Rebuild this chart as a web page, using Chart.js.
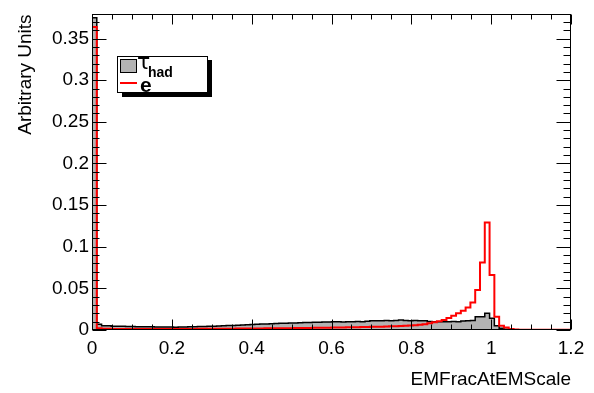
<!DOCTYPE html>
<html>
<head>
<meta charset="utf-8">
<script src="https://cdn.jsdelivr.net/npm/chart.js@4/dist/chart.umd.min.js"></script>
<style>
  html, body { margin: 0; padding: 0; background: #fff; }
  canvas { display: block; }
</style>
</head>
<body>
<canvas id="emfrac" width="594" height="393"></canvas>
<script>
'use strict';

// Histogram binning: 100 bins on [0, 1.2]
const xMin = 0;
const xMax = 1.2;
const nBins = 100;

// tau_had, normalised per bin
const tauHad = [
    0.375, 0.0070, 0.0050, 0.0050, 0.0046, 0.0045, 0.0044, 0.0042, 0.0041, 0.0040,
    0.0040, 0.0038, 0.0038, 0.0036, 0.0035, 0.0035, 0.0035, 0.0034, 0.0035, 0.0036,
    0.0038, 0.0040, 0.0041, 0.0043, 0.0045, 0.0046, 0.0049, 0.0051, 0.0053, 0.0055,
    0.0058, 0.0060, 0.0063, 0.0065, 0.0068, 0.0071, 0.0073, 0.0075, 0.0078, 0.0080,
    0.0082, 0.0084, 0.0085, 0.0087, 0.0089, 0.0090, 0.0092, 0.0094, 0.0095, 0.0097,
    0.0100, 0.0098, 0.0095, 0.0098, 0.0100, 0.0102, 0.0100, 0.0105, 0.0110, 0.0112,
    0.0110, 0.0115, 0.0112, 0.0115, 0.0120, 0.0115, 0.0112, 0.0115, 0.0110, 0.0112,
    0.0102, 0.0098, 0.0100, 0.0098, 0.0100, 0.0102, 0.0100, 0.0108, 0.0112, 0.0115,
    0.0160, 0.0160, 0.0200, 0.0140, 0.0050, 0.0020, 0.0010, 0.0005, 0.0003, 0.0002,
    0.0001, 0.0001, 0.0001, 0, 0, 0, 0, 0, 0, 0
];

// electrons, normalised per bin
const electron = [
    0.364, 0.0022, 0.0016, 0.0014, 0.0013, 0.0012, 0.0012, 0.0011, 0.0011, 0.0011,
    0.0011, 0.0011, 0.0011, 0.0011, 0.0012, 0.0012, 0.0012, 0.0012, 0.0013, 0.0013,
    0.0013, 0.0013, 0.0014, 0.0014, 0.0014, 0.0015, 0.0015, 0.0015, 0.0016, 0.0016,
    0.0017, 0.0017, 0.0018, 0.0018, 0.0019, 0.0019, 0.0020, 0.0020, 0.0021, 0.0021,
    0.0022, 0.0022, 0.0023, 0.0024, 0.0024, 0.0025, 0.0026, 0.0026, 0.0027, 0.0028,
    0.0029, 0.0030, 0.0031, 0.0032, 0.0033, 0.0034, 0.0035, 0.0036, 0.0038, 0.0039,
    0.0040, 0.0042, 0.0044, 0.0046, 0.0048, 0.0050, 0.0053, 0.0056, 0.0062, 0.0070,
    0.0080, 0.0092, 0.0105, 0.0120, 0.0145, 0.0170, 0.0200, 0.0230, 0.0270, 0.0330,
    0.0480, 0.0810, 0.1290, 0.0660, 0.0160, 0.0050, 0.0030, 0.0012, 0.0006, 0.0004,
    0.0003, 0.0003, 0.0002, 0.0002, 0.0002, 0.0002, 0.0002, 0.0002, 0.0002, 0.0002
];

const xTickLabels = [0, 0.2, 0.4, 0.6, 0.8, 1, 1.2];
const yTickLabels = [0, 0.05, 0.1, 0.15, 0.2, 0.25, 0.3, 0.35];
const yMax = 0.379;

const FONT = '"Liberation Sans", Arial, Helvetica, sans-serif';

// step outline: one point per lower bin edge, closed down to zero at both ends
function toSteps(values) {
    const w = (xMax - xMin) / nBins;
    const pts = [{ x: xMin, y: 0 }];
    values.forEach((v, i) => pts.push({ x: xMin + i * w, y: v }));
    pts.push({ x: xMax, y: 0 });
    return pts;
}

// ROOT-like frame: ticks pointing inward on all four sides, plus the legend box
const rootFrame = {
    id: 'rootFrame',
    afterDraw(chart) {
        const { ctx, chartArea: a, scales: { x, y } } = chart;
        const L = Math.round(a.left) + 0.5, R = Math.round(a.right) - 0.5;
        const T = Math.round(a.top) + 0.5, B = Math.round(a.bottom) - 0.5;

        ctx.save();
        ctx.strokeStyle = '#000';
        ctx.lineWidth = 1;
        const seg = (x0, y0, x1, y1) => {
            ctx.beginPath();
            ctx.moveTo(x0, y0);
            ctx.lineTo(x1, y1);
            ctx.stroke();
        };

        // x ticks every 0.05, major every 0.2
        for (let k = 0; k <= 24; k++) {
            const px = Math.round(x.getPixelForValue(k * 0.05)) + 0.5;
            const len = k % 4 === 0 ? 10 : 5;
            seg(px, B, px, B - len);
            seg(px, T, px, T + len);
        }
        // y ticks every 0.01, major every 0.05
        for (let k = 0; k * 0.01 <= yMax; k++) {
            const py = Math.round(y.getPixelForValue(k * 0.01)) + 0.5;
            const len = k % 5 === 0 ? 14 : 7;
            seg(L, py, L + len, py);
            seg(R, py, R - len, py);
        }
        ctx.strokeRect(L, T, R - L, B - T);

        // legend with drop shadow
        ctx.fillStyle = '#000';
        ctx.fillRect(122, 92, 90, 5);
        ctx.fillRect(207, 60, 5, 37);
        ctx.fillStyle = '#fff';
        ctx.fillRect(117, 56, 90, 36);
        ctx.strokeRect(117.5, 56.5, 90, 36);

        ctx.fillStyle = '#b3b3b3';
        ctx.fillRect(120, 59, 16, 13);
        ctx.strokeRect(120.5, 59.5, 16, 13);

        ctx.fillStyle = '#000';
        ctx.textBaseline = 'alphabetic';
        ctx.textAlign = 'left';
        ctx.font = '22px "DejaVu Sans", ' + FONT;
        ctx.fillText('\u03c4', 137, 69);
        ctx.font = 'bold 14px ' + FONT;
        ctx.fillText('had', 148, 77);

        ctx.strokeStyle = '#ff0000';
        ctx.lineWidth = 2;
        seg(120, 83, 137, 83);
        ctx.fillStyle = '#000';
        ctx.font = 'bold 21px ' + FONT;
        ctx.fillText('e', 140, 92);
        ctx.restore();
    }
};

const fmt = v => String(+Number(v).toFixed(3));

new Chart(document.getElementById('emfrac'), {
    type: 'line',
    data: {
        datasets: [
            {
                label: 'e',
                data: toSteps(electron),
                stepped: 'before',
                borderColor: '#ff0000',
                borderWidth: 2,
                pointRadius: 0,
                fill: false,
                order: 0
            },
            {
                label: '\u03c4had',
                data: toSteps(tauHad),
                stepped: 'before',
                borderColor: '#000000',
                borderWidth: 1.5,
                backgroundColor: '#b3b3b3',
                pointRadius: 0,
                fill: 'origin',
                order: 1
            }
        ]
    },
    options: {
        responsive: false,
        animation: false,
        layout: { padding: { top: 7, right: 23, left: 0, bottom: 0 } },
        plugins: {
            legend: { display: false },
            tooltip: { enabled: false }
        },
        scales: {
            x: {
                type: 'linear',
                min: xMin,
                max: xMax,
                afterBuildTicks: s => { s.ticks = xTickLabels.map(v => ({ value: v })); },
                afterFit: s => { s.height = 63; },
                grid: { display: false, drawTicks: false },
                border: { display: false },
                ticks: {
                    color: '#000',
                    font: { family: FONT, size: 19 },
                    padding: 7,
                    maxRotation: 0,
                    autoSkip: false,
                    callback: fmt
                },
                title: {
                    display: true,
                    text: 'EMFracAtEMScale',
                    align: 'end',
                    color: '#000',
                    font: { family: FONT, size: 19 },
                    padding: { top: 0, bottom: 2 }
                }
            },
            y: {
                type: 'linear',
                min: 0,
                max: yMax,
                afterBuildTicks: s => { s.ticks = yTickLabels.map(v => ({ value: v })); },
                afterFit: s => { s.width = 92; },
                grid: { display: false, drawTicks: false },
                border: { display: false },
                ticks: {
                    color: '#000',
                    font: { family: FONT, size: 19 },
                    padding: 3,
                    autoSkip: false,
                    callback: fmt
                },
                title: {
                    display: true,
                    text: 'Arbitrary Units',
                    align: 'end',
                    color: '#000',
                    font: { family: FONT, size: 19 },
                    padding: { top: 14, bottom: 0 }
                }
            }
        }
    },
    plugins: [rootFrame]
});
</script>
</body>
</html>
